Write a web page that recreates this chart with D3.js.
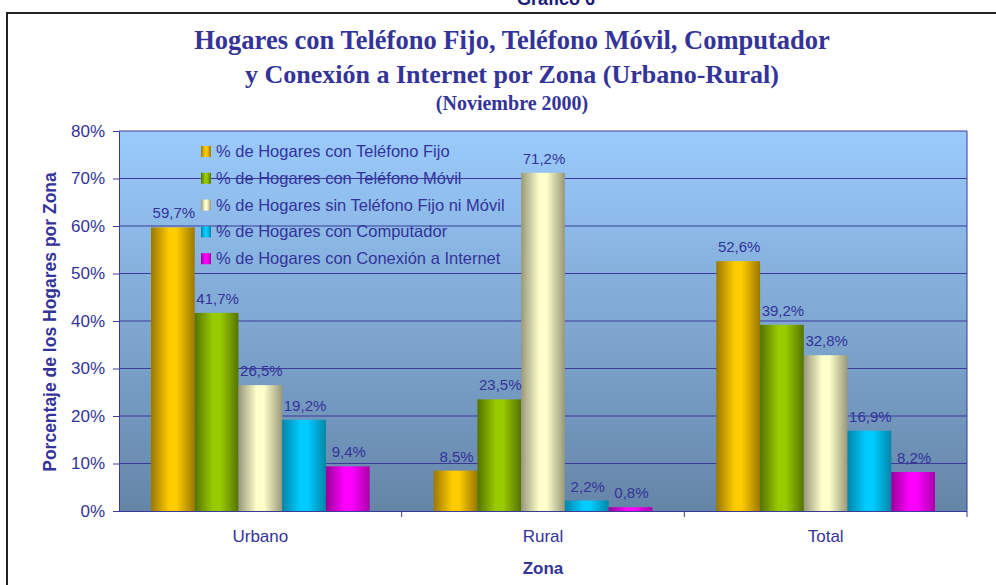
<!DOCTYPE html>
<html>
<head>
<meta charset="utf-8">
<script src="https://cdn.jsdelivr.net/npm/d3@7"></script>
<style>
  body { margin: 0; background: #fff; }
  svg { display: block; }
</style>
</head>
<body>
<div id="chart"></div>
<script>
// datos del grafico
var zonas = ["Urbano", "Rural", "Total"];
var series = [
  "% de Hogares con Teléfono Fijo",
  "% de Hogares con Teléfono Móvil",
  "% de Hogares sin Teléfono Fijo ni Móvil",
  "% de Hogares con Computador",
  "% de Hogares con Conexión a Internet"
];
var telFijo      = [59.7, 8.5, 52.6];
var telMovil     = [41.7, 23.5, 39.2];
var sinTelefono  = [26.5, 71.2, 32.8];
var computador   = [19.2, 2.2, 16.9];
var internet     = [9.4, 0.8, 8.2];
var valores = [telFijo, telMovil, sinTelefono, computador, internet];
var yTicks = [0, 10, 20, 30, 40, 50, 60, 70, 80];

// colores cilindricos: borde, centro, borde
var gradColors = [
  ["#9a7800", "#ffcc00", "#9a7800"],
  ["#557300", "#99cc00", "#557300"],
  ["#98987a", "#ffffcc", "#98987a"],
  ["#0086a8", "#00ccff", "#0086a8"],
  ["#990099", "#ff00ff", "#aa00aa"]
];
var textColor = "#333399";
var sans = "Liberation Sans, Arial, sans-serif";

var width = 996, height = 585;
var margin = {left: 119, right: 29, top: 131, bottom: 74};

var svg = d3.select("#chart").append("svg")
  .attr("width", width)
  .attr("height", height);

var defs = svg.append("defs");

var bg = defs.append("linearGradient")
  .attr("id", "bgGrad")
  .attr("x1", 0).attr("y1", 0).attr("x2", 0).attr("y2", 1);
bg.append("stop").attr("offset", "0%").attr("stop-color", "#9acbfd");
bg.append("stop").attr("offset", "100%").attr("stop-color", "#6585a7");

gradColors.forEach(function(c, i) {
  var g = defs.append("linearGradient")
    .attr("id", "barGrad" + i)
    .attr("x1", 0).attr("y1", 0).attr("x2", 1).attr("y2", 0);
  g.append("stop").attr("offset", "0%").attr("stop-color", c[0]);
  g.append("stop").attr("offset", "42%").attr("stop-color", c[1]);
  g.append("stop").attr("offset", "58%").attr("stop-color", c[1]);
  g.append("stop").attr("offset", "100%").attr("stop-color", c[2]);
});

// marco exterior
svg.append("rect")
  .attr("x", 7).attr("y", 13)
  .attr("width", 1000).attr("height", 600)
  .attr("fill", "none")
  .attr("stroke", "#222")
  .attr("stroke-width", 2);

// titulo cortado arriba (asi aparece en el original)
svg.append("text")
  .attr("x", 556).attr("y", 5)
  .attr("text-anchor", "middle")
  .attr("font-family", sans)
  .attr("font-weight", "bold")
  .attr("font-size", 18)
  .attr("fill", "#1a1a7a")
  .text("Gráfico 6");

var titulos = [
  {t: "Hogares con Teléfono Fijo, Teléfono Móvil, Computador", y: 49, s: 26.5},
  {t: "y Conexión a Internet por Zona (Urbano-Rural)", y: 83, s: 26},
  {t: "(Noviembre 2000)", y: 110, s: 20}
];
svg.selectAll(".titulo").data(titulos).enter().append("text")
  .attr("class", "titulo")
  .attr("x", 512)
  .attr("y", function(d) { return d.y; })
  .attr("text-anchor", "middle")
  .attr("font-family", "Liberation Serif, Times New Roman, serif")
  .attr("font-weight", "bold")
  .attr("font-size", function(d) { return d.s; })
  .attr("fill", textColor)
  .text(function(d) { return d.t; });

var x0 = d3.scaleBand()
  .domain(zonas)
  .range([margin.left, width - margin.right]);

var x1 = d3.scaleBand()
  .domain(d3.range(series.length))
  .range([32, x0.bandwidth() - 32]);

var y = d3.scaleLinear()
  .domain([0, 80])
  .range([height - margin.bottom, margin.top]);

var plotW = width - margin.right - margin.left;
var plotH = height - margin.bottom - margin.top;

svg.append("rect")
  .attr("x", margin.left).attr("y", margin.top)
  .attr("width", plotW).attr("height", plotH)
  .attr("fill", "url(#bgGrad)");

// lineas de la grilla
svg.append("g").selectAll("line")
  .data(yTicks.slice(1))
  .enter().append("line")
  .attr("x1", margin.left).attr("x2", width - margin.right)
  .attr("y1", function(d) { return y(d); })
  .attr("y2", function(d) { return y(d); })
  .attr("stroke", "#3a3a9a")
  .attr("stroke-width", 1);

svg.append("line")
  .attr("x1", width - margin.right).attr("x2", width - margin.right)
  .attr("y1", margin.top).attr("y2", height - margin.bottom + 6)
  .attr("stroke", "#3a3a9a");

// barras
var grupos = svg.append("g").selectAll("g")
  .data(zonas)
  .enter().append("g")
  .attr("transform", function(d) { return "translate(" + x0(d) + ",0)"; });

grupos.selectAll("rect")
  .data(function(d, j) { return valores.map(function(v, i) { return {i: i, v: v[j]}; }); })
  .enter().append("rect")
  .attr("x", function(d) { return x1(d.i); })
  .attr("y", function(d) { return y(d.v); })
  .attr("width", x1.bandwidth())
  .attr("height", function(d) { return y(0) - y(d.v); })
  .attr("fill", function(d) { return "url(#barGrad" + d.i + ")"; });

grupos.selectAll("text")
  .data(function(d, j) { return valores.map(function(v, i) { return {i: i, v: v[j]}; }); })
  .enter().append("text")
  .attr("x", function(d) { return x1(d.i) + x1.bandwidth() / 2 + 1; })
  .attr("y", function(d) { return y(d.v) - 9; })
  .attr("text-anchor", "middle")
  .attr("font-family", sans)
  .attr("font-size", 15)
  .attr("fill", textColor)
  .text(function(d) { return d3.format(".1f")(d.v).replace(".", ",") + "%"; });

// ejes
var yAxis = d3.axisLeft(y)
  .tickValues(yTicks)
  .tickSize(6)
  .tickPadding(8)
  .tickFormat(function(d) { return d + "%"; });

var gy = svg.append("g")
  .attr("transform", "translate(" + margin.left + ",0)")
  .call(yAxis);

var xAxis = d3.axisBottom(x0).tickSize(0).tickPadding(19);
var gx = svg.append("g")
  .attr("transform", "translate(0," + (height - margin.bottom) + ")")
  .call(xAxis);

// marcas entre categorias
svg.append("g").selectAll("line")
  .data(zonas.slice(1))
  .enter().append("line")
  .attr("x1", function(d) { return x0(d); })
  .attr("x2", function(d) { return x0(d); })
  .attr("y1", height - margin.bottom)
  .attr("y2", height - margin.bottom + 6)
  .attr("stroke", "#3a3a9a");

[gy, gx].forEach(function(g) {
  g.selectAll("path, line").attr("stroke", "#3a3a9a");
  g.selectAll("text")
    .attr("fill", textColor)
    .attr("font-family", sans)
    .attr("font-size", 17);
});
gx.select("path").attr("d", "M" + margin.left + ",0.5H" + (width - margin.right));

svg.append("text")
  .attr("x", 543).attr("y", 574)
  .attr("text-anchor", "middle")
  .attr("font-family", sans)
  .attr("font-weight", "bold")
  .attr("font-size", 17)
  .attr("fill", textColor)
  .text("Zona");

svg.append("text")
  .attr("transform", "translate(56,322) rotate(-90)")
  .attr("text-anchor", "middle")
  .attr("font-family", sans)
  .attr("font-weight", "bold")
  .attr("font-size", 17.5)
  .attr("fill", textColor)
  .text("Porcentaje de los Hogares por Zona");

// leyenda
var leyenda = svg.append("g").selectAll("g")
  .data(series)
  .enter().append("g")
  .attr("transform", function(d, i) { return "translate(201," + (146 + i * 26.8) + ")"; });

leyenda.append("rect")
  .attr("width", 10).attr("height", 11)
  .attr("fill", function(d, i) { return "url(#barGrad" + i + ")"; });

leyenda.append("text")
  .attr("x", 15).attr("y", 11)
  .attr("font-family", sans)
  .attr("font-size", 16.5)
  .attr("fill", textColor)
  .text(function(d) { return d; });
</script>
</body>
</html>
